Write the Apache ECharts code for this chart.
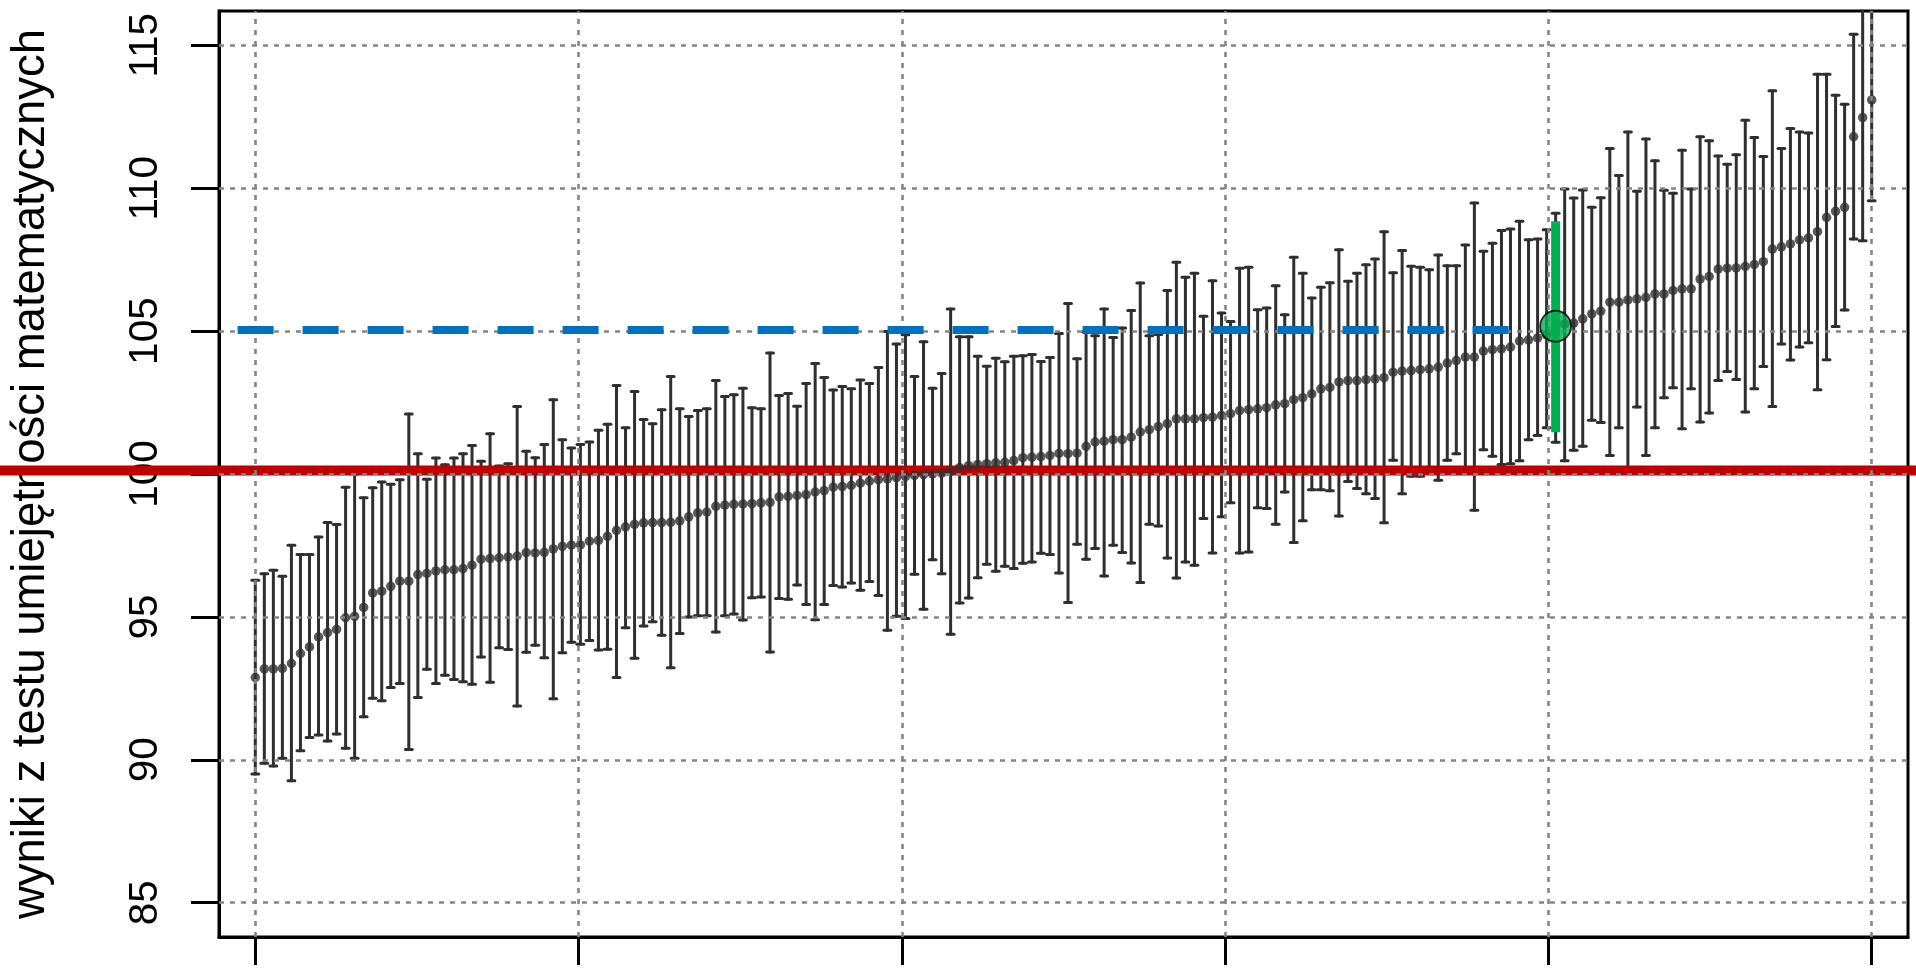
<!DOCTYPE html>
<html><head><meta charset="utf-8">
<script src="https://cdn.jsdelivr.net/npm/echarts@6/dist/echarts.min.js"></script>
<style>html,body{margin:0;padding:0;background:#fff}#c{width:1916px;height:968px}</style>
</head><body><div id="c"></div>
<script>
// ---- data ----
const means = [
92.88,93.18,93.18,93.20,93.37,93.72,93.95,94.30,94.45,94.56,
94.97,95.02,95.33,95.84,95.90,96.07,96.25,96.25,96.48,96.52,
96.61,96.65,96.65,96.69,96.81,97.02,97.04,97.07,97.10,97.13,
97.25,97.24,97.26,97.38,97.47,97.51,97.52,97.65,97.68,97.82,
98.03,98.15,98.24,98.29,98.30,98.30,98.31,98.36,98.50,98.64,
98.67,98.87,98.91,98.94,98.95,98.96,98.99,99.01,99.20,99.22,
99.25,99.28,99.37,99.42,99.54,99.56,99.60,99.68,99.75,99.80,
99.83,99.87,99.91,99.95,99.98,100.00,100.03,100.10,100.22,100.29,
100.33,100.36,100.39,100.41,100.47,100.57,100.59,100.61,100.65,100.72,
100.71,100.73,100.97,101.12,101.15,101.20,101.20,101.29,101.47,101.55,
101.66,101.76,101.93,101.93,101.93,101.97,101.99,102.05,102.11,102.22,
102.25,102.28,102.32,102.42,102.46,102.60,102.67,102.80,102.98,103.03,
103.22,103.27,103.27,103.30,103.33,103.37,103.56,103.60,103.62,103.65,
103.68,103.74,103.88,103.97,104.09,104.09,104.30,104.35,104.38,104.44,
104.65,104.69,104.76,104.87,105.17,105.25,105.28,105.43,105.60,105.70,
106.01,106.01,106.09,106.13,106.18,106.30,106.30,106.42,106.48,106.48,
106.82,106.91,107.17,107.20,107.21,107.26,107.33,107.43,107.87,107.95,
108.05,108.19,108.26,108.48,108.98,109.19,109.33,111.80,112.47,113.09
];
const lows = [
89.50,89.88,89.78,90.05,89.27,90.32,90.78,90.87,90.66,90.90,
90.40,90.05,91.51,92.15,92.07,92.53,92.67,90.36,92.18,93.17,
92.67,92.96,92.81,92.73,92.64,93.60,92.71,93.92,93.86,91.88,
93.76,94.01,93.57,92.14,93.75,94.11,94.04,94.17,93.84,93.87,
92.88,94.62,93.55,94.68,94.83,94.36,93.22,94.42,95.00,95.04,
95.04,94.47,95.04,95.10,94.89,95.67,95.70,93.77,95.64,95.62,
96.12,95.43,94.90,95.43,96.10,96.05,96.19,95.93,96.24,95.75,
94.53,95.02,94.94,96.49,95.27,97.00,96.51,94.39,95.49,95.66,
96.37,96.84,96.60,96.77,96.69,96.88,96.92,97.23,97.18,96.54,
95.50,97.54,97.02,97.39,96.43,97.51,97.25,96.89,96.20,98.24,
98.18,97.06,96.36,96.92,96.81,98.44,97.24,98.50,98.99,97.24,
97.27,98.82,98.79,98.24,99.37,97.60,98.36,99.45,99.45,99.41,
98.53,99.74,99.49,99.31,99.14,98.29,100.48,99.31,99.92,99.92,
100.04,99.78,100.48,100.71,100.16,98.73,100.85,100.62,100.33,100.36,
100.46,101.20,101.35,101.62,101.11,100.46,100.83,100.97,101.88,101.80,
100.65,101.62,100.20,102.34,100.65,101.62,102.67,103.02,101.58,102.98,
101.82,102.13,103.27,103.59,103.31,102.17,102.98,103.76,102.36,104.55,
103.99,104.44,104.59,102.95,104.00,105.16,105.74,108.22,108.16,109.56
];
const highs = [
96.28,96.51,96.63,96.42,97.51,97.18,97.18,97.80,98.30,98.23,
99.54,100.00,99.17,99.52,99.72,99.64,99.80,102.10,100.71,99.82,
100.56,100.32,100.56,100.71,101.00,100.45,101.41,100.28,100.36,102.36,
100.80,100.57,101.03,102.60,101.20,100.91,101.03,101.12,101.53,101.74,
103.10,101.62,102.89,101.91,101.76,102.25,103.41,102.28,102.01,102.22,
102.28,103.27,102.71,102.77,103.00,102.32,102.28,104.23,102.75,102.82,
102.37,103.17,103.87,103.38,102.94,103.06,102.98,103.29,103.17,103.73,
104.99,104.55,104.87,103.41,104.63,103.00,103.52,105.77,104.80,104.80,
104.12,103.77,104.05,103.93,104.12,104.14,104.18,103.94,104.08,104.92,
105.97,104.03,104.98,104.84,105.77,104.78,105.11,105.72,106.68,104.84,
104.88,106.42,107.41,106.88,107.02,105.52,106.76,105.63,105.34,107.20,
107.23,105.75,105.81,106.59,105.57,107.58,107.02,106.16,106.53,106.69,
107.85,106.74,107.02,107.32,107.52,108.48,107.04,107.82,107.27,107.23,
107.15,107.66,107.29,107.29,108.01,109.48,107.79,108.07,108.52,108.57,
108.84,108.20,108.22,108.55,109.12,109.97,109.66,109.94,109.33,109.67,
111.39,110.44,111.97,109.89,111.72,110.96,109.93,109.82,111.33,109.97,
111.80,111.66,111.13,110.84,111.17,112.38,111.77,111.11,113.41,111.39,
112.09,111.97,111.93,113.99,113.99,113.25,112.94,115.39,116.78,116.62
];
const yTicks = [85, 90, 95, 100, 105, 110, 115];
const xTicks = [0, 35.8, 71.6, 107.4, 143.2, 179];
const refValue = 100.12;          // red horizontal line
const targetValue = 105.05;       // blue dashed line
const targetEndIndex = 140;       // where blue dashed line stops
const highlightIndex = 144;
const highlightMean = 105.17;
const highlightLow = 101.46;
const highlightHigh = 108.84;
const yTitle = 'wyniki z testu umiejętności matematycznych';

// ---- chart ----
const X_MIN = -4.02, X_MAX = 183.02, Y_MIN = 83.8, Y_MAX = 116.2;
const FONT = "'Liberation Sans', Arial, Helvetica, sans-serif";
const chart = echarts.init(document.getElementById('c'), null, {renderer: 'canvas'});

function barRenderer(color, width, capHalf, cap) {
  return function (params, api) {
    const x = api.value(0), lo = api.value(1), hi = api.value(2);
    const top = Math.min(hi, Y_MAX);
    const pLo = api.coord([x, lo]);
    const pHi = api.coord([x, top]);
    const st = {stroke: color, lineWidth: width, lineCap: cap};
    const ch = [{type: 'line', shape: {x1: pLo[0], y1: pLo[1], x2: pHi[0], y2: pHi[1]}, style: st}];
    if (capHalf > 0) {
      ch.push({type: 'line', shape: {x1: pLo[0] - capHalf, y1: pLo[1], x2: pLo[0] + capHalf, y2: pLo[1]}, style: st});
      if (hi <= Y_MAX) ch.push({type: 'line', shape: {x1: pHi[0] - capHalf, y1: pHi[1], x2: pHi[0] + capHalf, y2: pHi[1]}, style: st});
    }
    return {type: 'group', children: ch};
  };
}

const gridDash = {color: '#858585', width: 2.6, type: [5, 6]};

const option = {
  animation: false,
  backgroundColor: '#ffffff',
  grid: {left: 218, right: 8, top: 11, bottom: 31, show: true, borderColor: '#000', borderWidth: 3, backgroundColor: 'transparent'},
  xAxis: {
    type: 'value', min: X_MIN, max: X_MAX,
    axisLine: {show: true, onZero: false, lineStyle: {color: '#000', width: 3}},
    axisTick: {show: true, length: 28, inside: false, customValues: xTicks, lineStyle: {color: '#000', width: 3}},
    axisLabel: {show: false},
    splitLine: {show: false}
  },
  yAxis: {
    type: 'value', min: Y_MIN, max: Y_MAX,
    name: yTitle, nameLocation: 'middle', nameRotate: 90, nameGap: 165,
    nameTextStyle: {fontFamily: FONT, fontSize: 45.5, color: '#000'},
    axisLine: {show: true, onZero: false, lineStyle: {color: '#000', width: 3}},
    axisTick: {show: true, length: 28, inside: false, customValues: yTicks, lineStyle: {color: '#000', width: 3}},
    axisLabel: {show: true, customValues: yTicks, rotate: 90, margin: 53, fontFamily: FONT, fontSize: 40.5, color: '#000'},
    splitLine: {show: false}
  },
  series: [
    {
      type: 'line', data: [], z: 1, silent: true,
      markLine: {
        silent: true, symbol: 'none', label: {show: false}, animation: false,
        lineStyle: gridDash,
        data: xTicks.map(v => ({xAxis: v})).concat(yTicks.map(v => ({yAxis: v})))
      }
    },
    {
      type: 'custom', z: 2, silent: true,
      renderItem: barRenderer('#2f2f2f', 3, 3.4, 'round'),
      encode: {x: 0, y: [1, 2]},
      data: lows.map((l, i) => [i, l, highs[i]])
    },
    {
      type: 'line', data: [], z: 3, silent: true,
      markLine: {
        silent: true, symbol: 'none', label: {show: false}, animation: false,
        lineStyle: {color: '#0070c0', width: 8, type: [36, 29], dashOffset: 46.4, cap: 'butt'},
        data: [[{coord: [X_MIN, targetValue]}, {coord: [targetEndIndex, targetValue]}]]
      }
    },
    {
      type: 'scatter', z: 4, silent: true, symbol: 'circle', symbolSize: 9.5,
      itemStyle: {color: '#2f2f2f'},
      data: means.map((m, i) => [i, m])
    },
    {
      type: 'custom', z: 5, silent: true,
      renderItem: barRenderer('#00b050', 9, 0, 'butt'),
      encode: {x: 0, y: [1, 2]},
      data: [[highlightIndex, highlightLow, highlightHigh]]
    },
    {
      type: 'scatter', z: 6, silent: true, symbol: 'circle', symbolSize: 31,
      itemStyle: {color: '#00b050', borderColor: '#000', borderWidth: 1.8},
      data: [[highlightIndex, highlightMean]]
    }
  ]
};
chart.setOption(option);

// red reference line across the whole figure, positioned through the y axis scale
const yRed = chart.convertToPixel({yAxisIndex: 0}, refValue);
chart.setOption({
  graphic: {elements: [{
    type: 'line', z: 3, silent: true,
    shape: {x1: 0, y1: yRed, x2: 1916, y2: yRed},
    style: {stroke: '#c00000', lineWidth: 10}
  }]}
});
</script></body></html>
